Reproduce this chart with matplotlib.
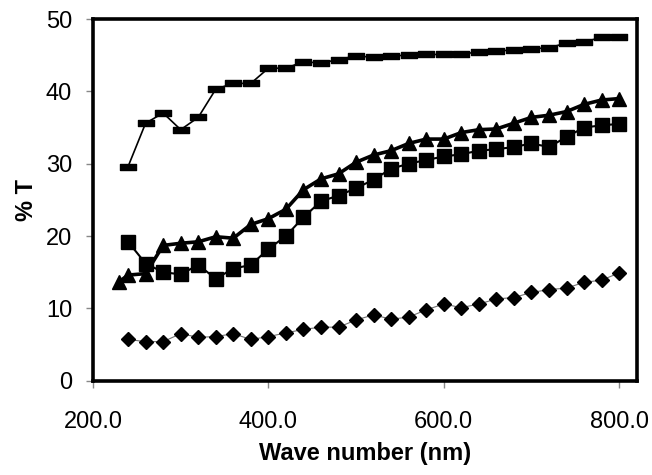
import matplotlib
matplotlib.use("Agg")
import matplotlib.pyplot as plt
from matplotlib.path import Path

plt.rcParams['font.family'] = ['Liberation Sans', 'DejaVu Sans']

# Data
wl = [240, 260, 280, 300, 320, 340, 360, 380, 400, 420, 440, 460, 480, 500,
      520, 540, 560, 580, 600, 620, 640, 660, 680, 700, 720, 740, 760, 780, 800]
wl_tri = [230] + wl

dash_series = [29.6, 35.6, 37.0, 34.7, 36.4, 40.3, 41.1, 41.1, 43.2, 43.2, 44.1, 43.9, 44.4, 44.9,
               44.7, 44.9, 45.0, 45.1, 45.1, 45.2, 45.4, 45.6, 45.7, 45.9, 46.0, 46.7, 46.8, 47.5, 47.5]
square_series = [19.2, 16.2, 15.0, 14.7, 16.0, 14.1, 15.5, 16.0, 18.2, 20.0, 22.6, 24.8, 25.6, 26.6,
                 27.8, 29.3, 30.0, 30.5, 31.0, 31.3, 31.8, 32.0, 32.3, 32.8, 32.3, 33.7, 35.0, 35.3, 35.5]
triangle_series = [13.7, 14.6, 14.8, 18.7, 19.0, 19.2, 19.9, 19.7, 21.6, 22.4, 23.7, 26.4, 27.9, 28.6, 30.2,
                   31.2, 31.8, 32.8, 33.4, 33.4, 34.3, 34.7, 34.8, 35.6, 36.4, 36.7, 37.2, 38.2, 38.8, 39.0]
diamond_series = [5.7, 5.4, 5.4, 6.5, 6.0, 6.1, 6.5, 5.7, 6.1, 6.6, 7.1, 7.4, 7.4, 8.4,
                  9.1, 8.5, 8.8, 9.8, 10.6, 10.1, 10.6, 11.3, 11.5, 12.2, 12.6, 12.8, 13.6, 13.9, 14.9]

x_ticks = [200, 400, 600, 800]
x_tick_labels = ["200.0", "400.0", "600.0", "800.0"]
y_ticks = [0, 10, 20, 30, 40, 50]

fig = plt.figure(figsize=(6.52, 4.75), dpi=100)
ax = fig.add_axes([93/652, (475-380.7)/475, (636.7-93)/652, 361.7/475])

dash_marker = Path([(-1, -0.36), (1, -0.36), (1, 0.36), (-1, 0.36), (-1, -0.36)],
                   [Path.MOVETO, Path.LINETO, Path.LINETO, Path.LINETO, Path.CLOSEPOLY])

ax.plot(wl, diamond_series, color='#707070', lw=0.8, marker='D', ms=6.8,
        mfc='black', mec='black', zorder=3)
ax.plot(wl, square_series, color='black', lw=1.5, marker='s', ms=9.5,
        mfc='black', mec='black', zorder=3)
ax.plot(wl_tri, triangle_series, color='black', lw=2.6, marker='^', ms=10.5,
        mfc='black', mec='black', zorder=4)
ax.plot(wl, dash_series, color='black', lw=1.2, marker=dash_marker, ms=11.5,
        mfc='black', mec='black', zorder=3)

ax.set_xlim(200, 820)
ax.set_ylim(0, 50)
ax.set_xticks(x_ticks)
ax.set_xticklabels(x_tick_labels)
ax.set_yticks(y_ticks)

for s in ax.spines.values():
    s.set_linewidth(2.6)
    s.set_color('black')

ax.tick_params(axis='both', direction='out', length=5, width=1.0, color='#888888',
               labelsize=17, labelcolor='black')
ax.tick_params(axis='x', pad=17)
ax.tick_params(axis='y', pad=10)

ax.set_xlabel('Wave number (nm)', fontsize=17, fontweight='bold', labelpad=6)
ax.set_ylabel('% T', fontsize=17, fontweight='bold', labelpad=6)

fig.savefig('out.png', dpi=100)
